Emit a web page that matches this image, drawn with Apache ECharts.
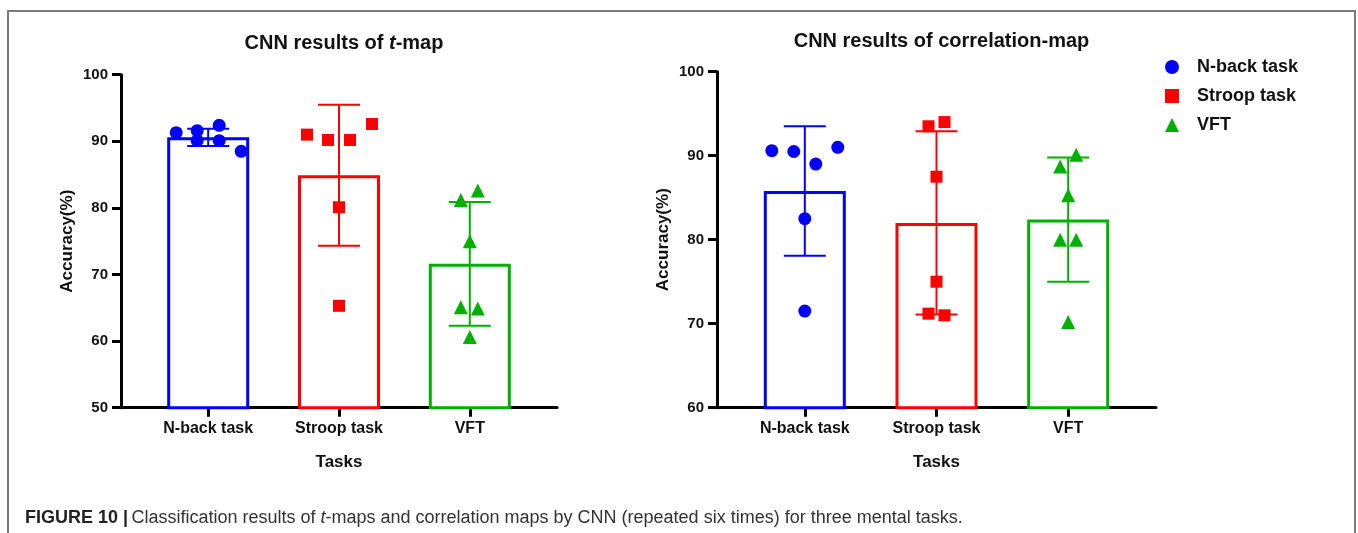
<!DOCTYPE html>
<html>
<head>
<meta charset="utf-8">
<script src="https://cdn.jsdelivr.net/npm/echarts@6/dist/echarts.min.js"></script>
<style>
html,body{margin:0;padding:0;background:#fff;}
#chart{width:1358px;height:533px;}
</style>
</head>
<body>
<div id="chart"></div>
<script>
// ---------- DATA ----------
const categories = ['N-back task', 'Stroop task', 'VFT'];

// t-map panel: individual runs (six repetitions each)
const tmapNback  = [91.3, 91.6, 92.4, 90.1, 90.1, 88.5];
const tmapStroop = [91.0, 90.2, 90.2, 92.6, 80.1, 65.3];
const tmapVFT    = [81.2, 82.6, 75.0, 65.1, 64.9, 60.6];
const tmapMean   = [90.6, 84.9, 71.6];
const tmapSD     = [1.3, 10.6, 9.3];

// correlation-map panel
const corrNback  = [90.6, 90.5, 89.0, 91.0, 82.5, 71.5];
const corrStroop = [93.5, 94.0, 87.5, 75.0, 71.2, 71.0];
const corrVFT    = [88.7, 90.1, 85.3, 80.0, 80.0, 70.2];
const corrMean   = [85.8, 82.0, 82.4];
const corrSD     = [7.7, 10.9, 7.4];

// axis ranges / tick settings
const tmapAxis = {min: 50, max: 100, interval: 10};
const corrAxis = {min: 60, max: 100, interval: 10};

// ---------- STYLE ----------
const FONT = "'Liberation Sans', Arial, Helvetica, sans-serif";
const colors = ['#0000ff', '#ff0000', '#00b000'];
const symbols = ['circle', 'rect', 'triangle'];
const symbolSizes = [13, 12, 14];
// horizontal jitter of the dots in pixels (layout only)
const jitterT = [[-32, -11, 11, -11, 11, 33], [-32, -11, 11, 33, 0, 0], [-9, 8, 0, -9, 8, 0]];
const jitterC = [[-33, -11, 11, 33, 0, 0], [-8, 8, 0, 0, -8, 8], [-8, 8, 0, -8, 8, 0]];

const chart = echarts.init(document.getElementById('chart'), null, {renderer: 'canvas'});

function xAxisCfg(gridIndex) {
  return {
    type: 'value', gridIndex: gridIndex, min: -2 / 3, max: 8 / 3,
    name: 'Tasks', nameLocation: 'middle', nameGap: 46,
    nameTextStyle: {fontFamily: FONT, fontWeight: 'bold', fontSize: 17, color: '#111'},
    axisLine: {show: true, onZero: false, lineStyle: {color: '#000', width: 3}},
    axisTick: {show: true, customValues: [0, 1, 2], length: 9, lineStyle: {color: '#000', width: 3}},
    axisLabel: {
      show: true, customValues: [0, 1, 2], margin: 13,
      fontFamily: FONT, fontWeight: 'bold', fontSize: 16, color: '#111',
      formatter: v => categories[Math.round(v)] || ''
    },
    splitLine: {show: false}
  };
}
function yAxisCfg(gridIndex, ax) {
  return {
    type: 'value', gridIndex: gridIndex, min: ax.min, max: ax.max, interval: ax.interval,
    name: 'Accuracy(%)', nameLocation: 'middle', nameGap: 45,
    nameTextStyle: {fontFamily: FONT, fontWeight: 'bold', fontSize: 17, color: '#111'},
    axisLine: {show: true, onZero: false, lineStyle: {color: '#000', width: 3}},
    axisTick: {show: true, length: 9, lineStyle: {color: '#000', width: 3}},
    axisLabel: {margin: 13, fontFamily: FONT, fontWeight: 'bold', fontSize: 15, color: '#111'},
    splitLine: {show: false}
  };
}

function barSeries(idx, means) {
  return {
    type: 'bar', xAxisIndex: idx, yAxisIndex: idx, barWidth: 82, z: 2,
    data: means.map((v, i) => ({value: [i, v], itemStyle: {borderColor: colors[i]}})),
    itemStyle: {color: '#ffffff', borderWidth: 3},
    silent: true
  };
}
function errSeries(idx, means, sds) {
  return {
    type: 'custom', xAxisIndex: idx, yAxisIndex: idx, z: 3, silent: true,
    data: means.map((m, i) => [i, m, sds[i]]),
    renderItem: function (params, api) {
      const x = api.value(0), m = api.value(1), s = api.value(2);
      const top = api.coord([x, m + s]);
      const bot = api.coord([x, m - s]);
      const c = colors[params.dataIndex];
      const st = {stroke: c, lineWidth: 2};
      const hw = 21;
      return {type: 'group', children: [
        {type: 'line', shape: {x1: top[0], y1: top[1], x2: bot[0], y2: bot[1]}, style: st},
        {type: 'line', shape: {x1: top[0] - hw, y1: top[1], x2: top[0] + hw, y2: top[1]}, style: st},
        {type: 'line', shape: {x1: bot[0] - hw, y1: bot[1], x2: bot[0] + hw, y2: bot[1]}, style: st}
      ]};
    }
  };
}
function dotSeries(idx, catIdx, values, jitter) {
  return {
    type: 'scatter', name: categories[catIdx], xAxisIndex: idx, yAxisIndex: idx, z: 5,
    symbol: symbols[catIdx], symbolSize: symbolSizes[catIdx],
    itemStyle: {color: colors[catIdx], opacity: 1},
    data: values.map((v, j) => ({value: [catIdx, v], symbolOffset: [jitter[catIdx][j], 0]})),
    silent: true
  };
}

const option = {
  backgroundColor: '#ffffff',
  animation: false,
  textStyle: {fontFamily: FONT},
  title: [
    {
      text: '{b|CNN results of }{i|t}{b|-map}',
      left: 339, top: 28, textAlign: 'center',
      textStyle: {rich: {
        b: {fontFamily: FONT, fontWeight: 'bold', fontSize: 20, color: '#111'},
        i: {fontFamily: FONT, fontWeight: 'bold', fontStyle: 'italic', fontSize: 20, color: '#111'}
      }}
    },
    {
      text: 'CNN results of correlation-map',
      left: 936.5, top: 26, textAlign: 'center',
      textStyle: {fontFamily: FONT, fontWeight: 'bold', fontSize: 20, color: '#111'}
    }
  ],
  legend: {
    orient: 'vertical', left: 1165, top: 58, itemWidth: 14, itemHeight: 14, itemGap: 11,
    padding: 0,
    data: [
      {name: categories[0], icon: 'circle'},
      {name: categories[1], icon: 'rect'},
      {name: categories[2], icon: 'triangle'}
    ],
    textStyle: {fontFamily: FONT, fontWeight: 'bold', fontSize: 18, color: '#111', padding: [0, 0, 0, 13]},
    selectedMode: false
  },
  grid: [
    {left: 121, top: 74.7, width: 436, height: 333},
    {left: 717, top: 71.7, width: 439, height: 336}
  ],
  xAxis: [xAxisCfg(0), xAxisCfg(1)],
  yAxis: [yAxisCfg(0, tmapAxis), yAxisCfg(1, corrAxis)],
  series: [
    barSeries(0, tmapMean),
    errSeries(0, tmapMean, tmapSD),
    dotSeries(0, 0, tmapNback, jitterT),
    dotSeries(0, 1, tmapStroop, jitterT),
    dotSeries(0, 2, tmapVFT, jitterT),
    barSeries(1, corrMean),
    errSeries(1, corrMean, corrSD),
    dotSeries(1, 0, corrNback, jitterC),
    dotSeries(1, 1, corrStroop, jitterC),
    dotSeries(1, 2, corrVFT, jitterC)
  ],
  graphic: [
    {
      type: 'polyline', silent: true, z: 100,
      shape: {points: [[8, 540], [8, 11], [1355, 11], [1355, 540]]},
      style: {stroke: '#7a7a7a', lineWidth: 2, fill: null}
    },
    {
      type: 'text', silent: true, z: 100, x: 25, y: 518,
      style: {
        text: '{b|FIGURE 10 |} {r|Classification results of }{i|t}{r|-maps and correlation maps by CNN (repeated six times) for three mental tasks.}',
        verticalAlign: 'middle',
        rich: {
          b: {fontFamily: FONT, fontWeight: 'bold', fontSize: 18, fill: '#222'},
          r: {fontFamily: FONT, fontSize: 18, fill: '#333'},
          i: {fontFamily: FONT, fontStyle: 'italic', fontSize: 18, fill: '#333'}
        }
      }
    }
  ]
};
chart.setOption(option);
</script>
</body>
</html>
